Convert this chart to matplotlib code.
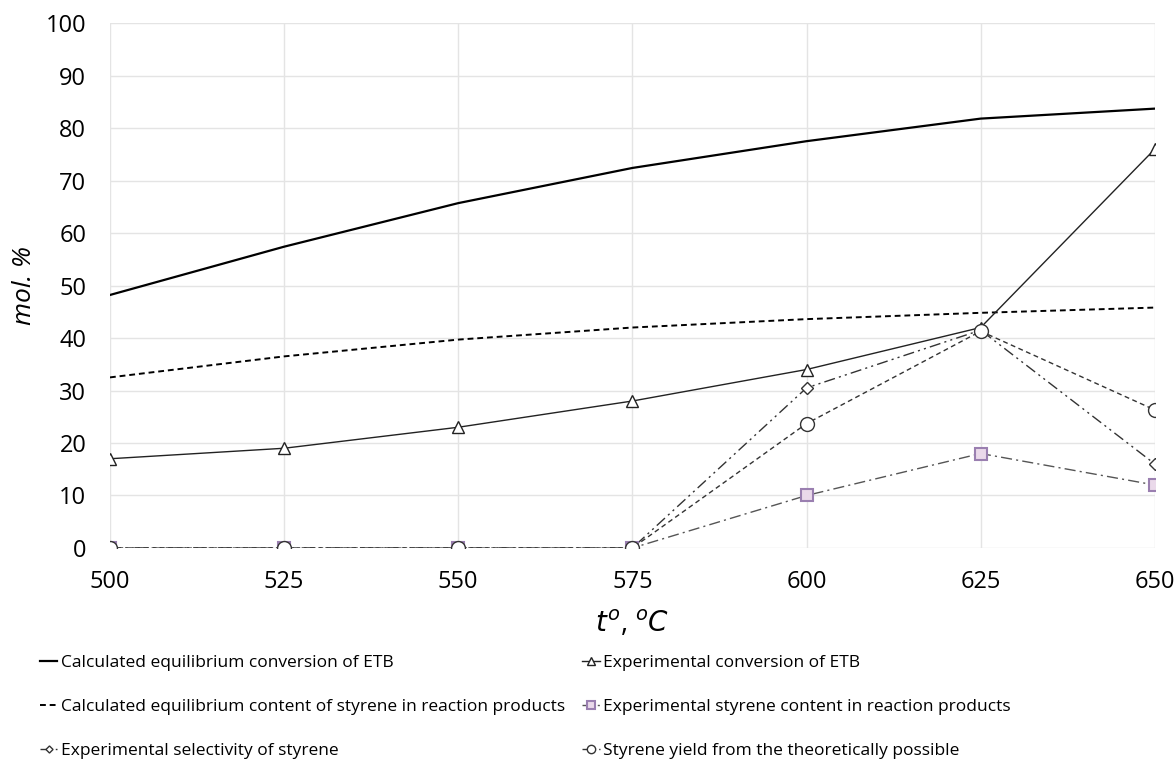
import matplotlib.pyplot as plt
import numpy as np

plt.rcParams['font.family'] = ['Open Sans', 'DejaVu Sans']

temp = [500, 525, 550, 575, 600, 625, 650]
eq_conversion = [48.2, 57.4, 65.7, 72.4, 77.5, 81.8, 83.7]
eq_styrene = [32.5, 36.5, 39.7, 42.0, 43.6, 44.8, 45.8]
exp_conversion = [17, 19, 23, 28, 34, 42, 76]
exp_styrene = [0, 0, 0, 0, 10, 18, 12]
selectivity = [0, 0, 0, 0, 30.5, 41.5, 16]
styrene_yield = [0, 0, 0, 0, 23.7, 41.3, 26.3]

fig = plt.figure(figsize=(11.76, 7.69), dpi=100)
ax = fig.add_axes([0.0935, 0.2874, 0.8885, 0.6826])

l1, = ax.plot(temp, eq_conversion, color="black", lw=1.6,
              label="Calculated equilibrium conversion of ETB")
l2, = ax.plot(temp, eq_styrene, color="black", lw=1.4, ls=(0, (3, 2)),
              label="Calculated equilibrium content of styrene in reaction products")
l3, = ax.plot(temp, exp_conversion, color="#222222", lw=1.0, marker="^", ms=9,
              mfc="white", mec="#222222",
              label="Experimental conversion of ETB")
l5, = ax.plot(temp, selectivity, color="#333333", lw=1.0, ls=(0, (8, 3, 1.5, 3, 1.5, 3)),
              marker="D", ms=6, mfc="white", mec="#333333",
              label="Experimental selectivity of styrene")
l4, = ax.plot(temp, exp_styrene, color="#555555", lw=1.0, ls=(0, (8, 3, 1.5, 3)),
              marker="s", ms=9, mfc="#ead9ea", mec="#9a7fb0", mew=1.5,
              label="Experimental styrene content in reaction products")
l6, = ax.plot(temp, styrene_yield, color="#333333", lw=1.0, ls=(0, (3.5, 2.5)),
              marker="o", ms=10, mfc="white", mec="#333333",
              label="Styrene yield from the theoretically possible")

ax.set_xlim(500, 650)
ax.set_ylim(0, 100)
ax.set_xticks(temp)
ax.set_yticks(np.arange(0, 101, 10))
ax.tick_params(labelsize=17, length=0)
ax.tick_params(axis="y", pad=17)
ax.tick_params(axis="x", pad=16)
ax.grid(True, color="#e4e4e4", lw=1)
for s in ax.spines.values():
    s.set_visible(False)
ax.set_ylabel("mol. %", fontsize=19, style="italic", labelpad=6)
ax.set_xlabel(r"$t^{o}$, $^{o}C$", fontsize=20, labelpad=10)

handles = [l1, l2, l5, l3, l4, l6]
fig.legend(handles, [h.get_label() for h in handles],
           ncol=2, loc="upper left", bbox_to_anchor=(0.028, 0.157),
           frameon=False, fontsize=12.5, handlelength=1.0, handletextpad=0.2,
           labelspacing=1.6, columnspacing=1.0, markerscale=0.6,
           borderaxespad=0)

fig.savefig("out.png", dpi=100)
